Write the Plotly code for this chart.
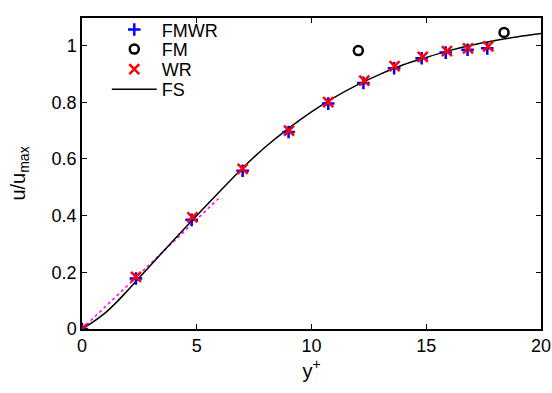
import plotly.graph_objects as go

# Data
fmwr_x = [0, 2.35, 4.78, 7.0, 9.0, 10.73, 12.26, 13.6, 14.8, 15.85, 16.8, 17.66]
fmwr_y = [0, 0.178, 0.385, 0.558, 0.695, 0.795, 0.868, 0.92, 0.955, 0.975, 0.985, 0.99]
wr_x = [0, 2.35, 4.81, 7.0, 9.02, 10.73, 12.3, 13.62, 14.85, 15.9, 16.82, 17.7]
wr_y = [0, 0.184, 0.394, 0.565, 0.70, 0.80, 0.876, 0.927, 0.96, 0.98, 0.99, 0.997]
fm_x = [12.04, 18.39]
fm_y = [0.982, 1.046]
fs_x = [0, 0.5, 1, 1.5, 2, 3, 4, 5, 6, 7, 8, 9, 10, 11, 12, 13, 14, 15, 16, 17, 18, 19, 20]
fs_y = [0, 0.026, 0.056, 0.094, 0.137, 0.226, 0.314, 0.40, 0.485, 0.568, 0.643, 0.708, 0.766,
        0.817, 0.861, 0.899, 0.932, 0.958, 0.982, 1.002, 1.018, 1.031, 1.042]
lin_x = [0, 5.95]
lin_y = [0, 0.46]

font = "Liberation Sans, Arial, sans-serif"

fig = go.Figure()
fig.add_trace(go.Scatter(x=lin_x, y=lin_y, mode="lines", showlegend=False,
                         line=dict(color="#ff00ff", width=1.5, dash="dot")))
fig.add_trace(go.Scatter(x=fs_x, y=fs_y, mode="lines", name="FS", legend="legend4",
                         line=dict(color="black", width=1.5, shape="spline", smoothing=0.8)))
fig.add_trace(go.Scatter(x=fmwr_x, y=fmwr_y, mode="markers", name="FMWR", legend="legend",
                         marker=dict(symbol="cross-thin-open", size=9, color="blue",
                                     line=dict(color="blue", width=2.5))))
fig.add_trace(go.Scatter(x=fm_x, y=fm_y, mode="markers", name="FM", legend="legend2",
                         marker=dict(symbol="circle-open", size=9, color="black",
                                     line=dict(color="black", width=2.5))))
fig.add_trace(go.Scatter(x=wr_x, y=wr_y, mode="markers", name="WR", legend="legend3",
                         marker=dict(symbol="x-thin-open", size=10, color="red",
                                     line=dict(color="red", width=2.5))))

axis_common = dict(showline=True, linecolor="black", linewidth=1.5, mirror="ticks",
                   ticks="inside", ticklen=5, tickcolor="black", tickwidth=1,
                   showgrid=False, zeroline=False, automargin=False,
                   tickfont=dict(family=font, size=18, color="black"))

def leg(py):
    return dict(x=0.054, y=(329 - py) / 317, xanchor="left", yanchor="middle",
                bgcolor="rgba(0,0,0,0)", font=dict(family=font, size=18),
                itemwidth=45, borderwidth=0)

fig.update_layout(
    width=552, height=393,
    margin=dict(l=82, r=11, t=12, b=64),
    paper_bgcolor="white", plot_bgcolor="white",
    font=dict(family=font, color="black"),
    xaxis=dict(range=[0, 20], tickvals=[0, 5, 10, 15, 20],
               title=dict(text="y<sup>+</sup>", font=dict(family=font, size=20), standoff=8),
               **axis_common),
    yaxis=dict(range=[0, 1.097], tickvals=[0, 0.2, 0.4, 0.6, 0.8, 1],
               ticktext=["0", "0.2", "0.4", "0.6", "0.8", "1"],
               title=dict(text="u/u<sub>max</sub>", font=dict(family=font, size=20), standoff=21),
               **axis_common),
    legend=leg(24),
    legend2=leg(44),
    legend3=leg(64.5),
    legend4=leg(85),
)

fig.write_html("out.html")
